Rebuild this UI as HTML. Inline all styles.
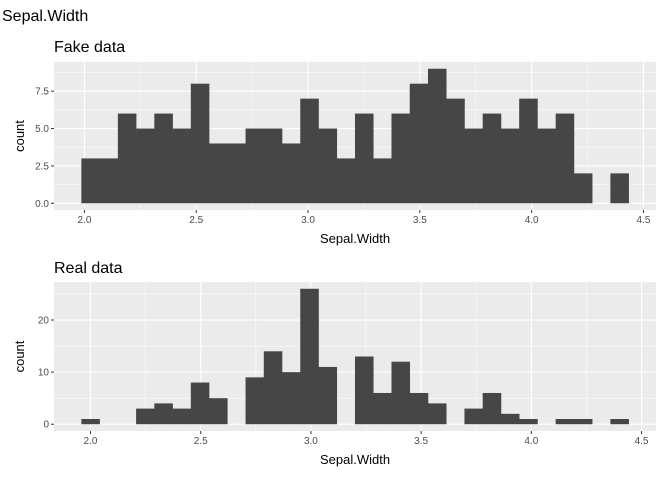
<!DOCTYPE html>
<html><head><meta charset="utf-8"><style>
body{margin:0;background:#fff;}
svg{display:block;font-family:"Liberation Sans",Arial,sans-serif;}
</style></head><body>
<svg id="chart" width="672" height="480">
<text x="2" y="21" font-size="16" fill="#000">Sepal.Width</text>
</svg>
<script>
const fakeCounts=[3,3,6,5,6,5,8,4,4,5,5,4,7,5,3,6,3,6,8,9,7,5,6,5,7,5,6,2,0,2];
const fakeRange=[2.027,4.393];
const realCounts=[1,0,0,3,4,3,8,5,0,9,14,10,26,11,0,13,6,12,6,4,0,3,6,2,1,0,1,1,0,1];
const realRange=[2.0,4.4];
const xTicks=[2.0,2.5,3.0,3.5,4.0,4.5];
const fakeYTicks=[0,2.5,5,7.5];
const fakeYLabels=["0.0","2.5","5.0","7.5"];
const realYTicks=[0,10,20];
const realYLabels=["0","10","20"];

const NS="http://www.w3.org/2000/svg";
const svg=document.getElementById('chart');
function mk(tag,attrs,parent){const e=document.createElementNS(NS,tag);for(const k in attrs)e.setAttribute(k,attrs[k]);(parent||svg).appendChild(e);return e;}

function panel(id,title,counts,range,yTicks,yLabels,top,bottom,titleY){
  const L=54,R=656;
  const n=counts.length,bw=(range[1]-range[0])/(n-1);
  const dmin=range[0]-bw/2,dmax=range[1]+bw/2,ex=(dmax-dmin)*0.05;
  const x0=dmin-ex,x1=dmax+ex;
  const ymaxD=Math.max(...counts),ey=ymaxD*0.05;
  const y0=-ey,y1=ymaxD+ey;
  const X=v=>L+(v-x0)/(x1-x0)*(R-L);
  const Y=v=>bottom-(v-y0)/(y1-y0)*(bottom-top);
  const g=mk('g',{});
  
  
  const t=mk('text',{x:L,y:titleY,'font-size':16,fill:'#000'},g);t.textContent=title;
  
  
  const bg=mk('rect',{x:L,y:top,width:R-L,height:bottom-top,fill:'#ebebeb'},g);
  
  
  const step=yTicks[1]-yTicks[0];
  for(let v=yTicks[0]+step/2;v<y1;v+=step){if(Y(v)>top)mk('line',{x1:L,x2:R,y1:Y(v),y2:Y(v),stroke:'#fff','stroke-width':0.5},g);}
  for(let i=0;i<xTicks.length;i++){const v=xTicks[i]-0.25;if(v>x0)mk('line',{x1:X(v),x2:X(v),y1:top,y2:bottom,stroke:'#fff','stroke-width':0.5},g);}
  const last=xTicks[xTicks.length-1]+0.25;if(last<x1)mk('line',{x1:X(last),x2:X(last),y1:top,y2:bottom,stroke:'#fff','stroke-width':0.5},g);
  yTicks.forEach((v,i)=>{mk('line',{x1:L,x2:R,y1:Y(v),y2:Y(v),stroke:'#fff','stroke-width':1.1},g);
    mk('line',{x1:L-3,x2:L,y1:Y(v),y2:Y(v),stroke:'#333','stroke-width':1},g);
    const tl=mk('text',{x:L-5,y:Y(v)+3.5,'font-size':10,fill:'#4d4d4d','text-anchor':'end'},g);tl.textContent=yLabels[i];
    
    });
  xTicks.forEach(v=>{mk('line',{x1:X(v),x2:X(v),y1:top,y2:bottom,stroke:'#fff','stroke-width':1.1},g);
    mk('line',{x1:X(v),x2:X(v),y1:bottom,y2:bottom+3,stroke:'#333','stroke-width':1},g);
    const tl=mk('text',{x:X(v),y:bottom+13,'font-size':10,fill:'#4d4d4d','text-anchor':'middle'},g);tl.textContent=v.toFixed(1);
    
    });
  counts.forEach((c,i)=>{const c0=range[0]+i*bw;
    const r=mk('rect',{x:X(c0-bw/2),y:Y(c),width:X(c0+bw/2)-X(c0-bw/2)+0.3,height:Math.max(0,Y(0)-Y(c)),fill:'#464646'},g);
    
    });
  const xt=mk('text',{x:(L+R)/2,y:bottom+33,'font-size':13,fill:'#000','text-anchor':'middle'},g);xt.textContent='Sepal.Width';
  
  
  const cy=(top+bottom)/2;
  const yt=mk('text',{x:24,y:cy,'font-size':13,fill:'#000','text-anchor':'middle',transform:`rotate(-90 24 ${cy})`},g);yt.textContent='count';
  
  
}
panel('fake','Fake data',fakeCounts,fakeRange,fakeYTicks,fakeYLabels,62,210,52);
panel('real','Real data',realCounts,realRange,realYTicks,realYLabels,282,431,273);
</script>
</body></html>
